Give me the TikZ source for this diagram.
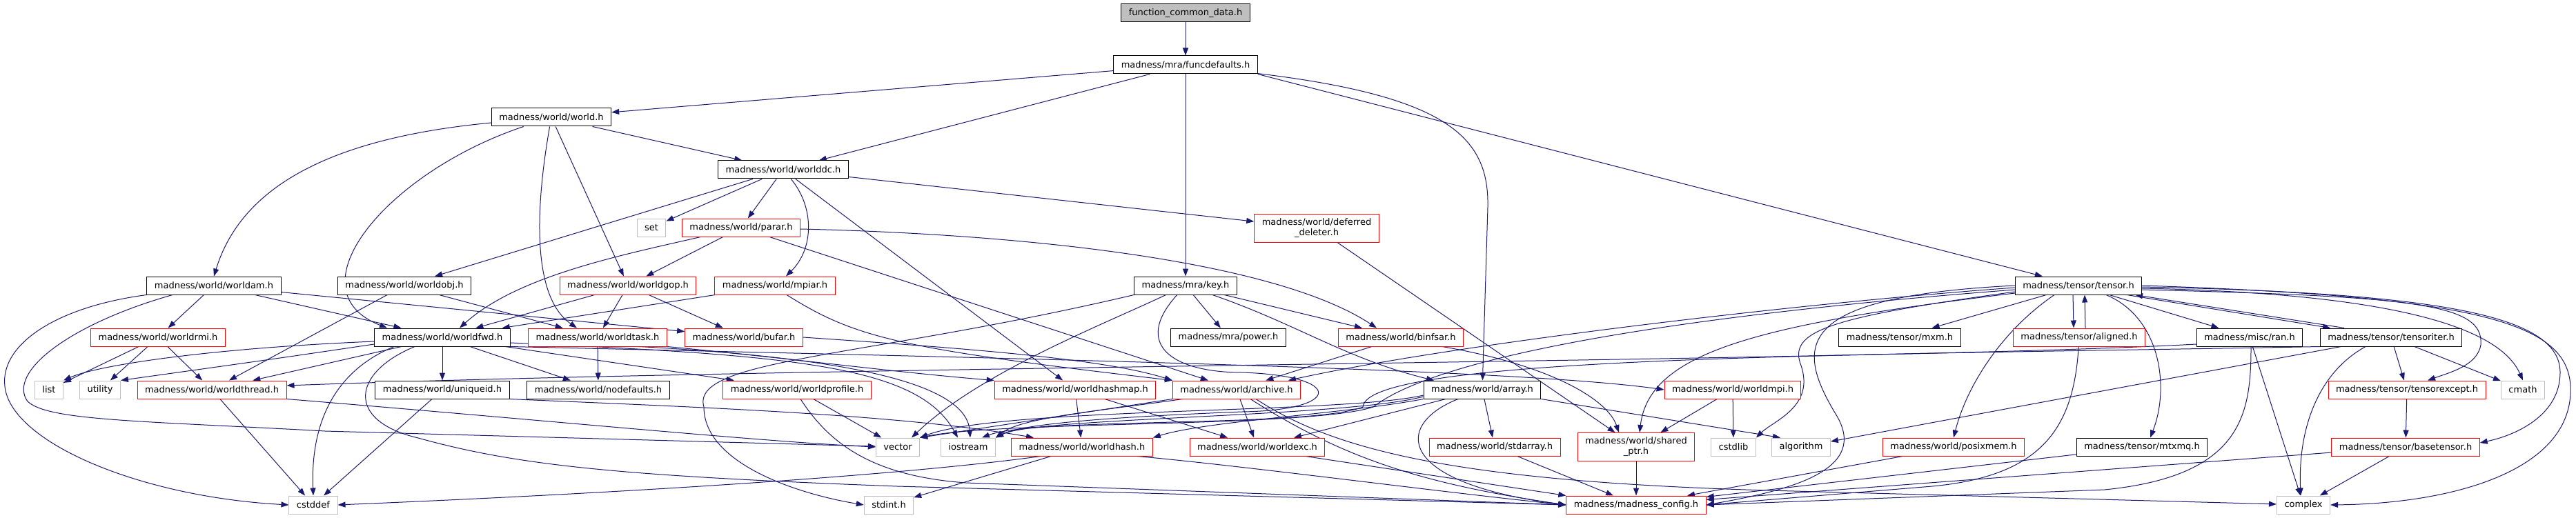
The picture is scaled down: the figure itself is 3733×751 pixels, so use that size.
\documentclass[tikz,border=0pt]{standalone}
\usepackage{fontspec}
\setmainfont{DejaVu Sans}
\usepackage{tikz}
\usetikzlibrary{arrows.meta,backgrounds}
\definecolor{depblue}{HTML}{191970}
\definecolor{sysgray}{HTML}{BFBFBF}

\begin{document}
\begin{tikzpicture}[
  x=1pt, y=-1pt,
  hdr/.style={draw=black, line width=1pt, fill=white, align=center,
    font=\fontsize{13}{15}\selectfont, inner xsep=11pt, inner ysep=6.5pt,
    minimum height=26pt},
  redhdr/.style={hdr, draw=red},
  syshdr/.style={hdr, draw=sysgray},
  roothdr/.style={hdr, fill=sysgray},
  dep/.style={-{Triangle[length=11pt,width=8pt]}, draw=depblue, line width=1pt}
]
\useasboundingbox (0,0) rectangle (3733,751);

% ranks, top to bottom
\node[roothdr] (root) at (1718,19) {function\_common\_data.h};
\node[hdr] (funcdef) at (1718,94) {madness/mra/funcdefaults.h};
\node[hdr] (world) at (799,170) {madness/world/world.h};
\node[hdr] (worlddc) at (1135,246) {madness/world/worlddc.h};

\node[syshdr] (set) at (944,330) {set};
\node[redhdr] (parar) at (1074,330) {madness/world/parar.h};
\node[redhdr] (deldel) at (1908,331) {madness/world/deferred\\\_deleter.h};

\node[hdr] (worldam) at (310,414) {madness/world/worldam.h};
\node[hdr] (worldobj) at (586,414) {madness/world/worldobj.h};
\node[redhdr] (worldgop) at (910,414) {madness/world/worldgop.h};
\node[redhdr] (mpiar) at (1123,414) {madness/world/mpiar.h};
\node[hdr] (key) at (1718,414) {madness/mra/key.h};
\node[hdr] (tensor) at (3012,414) {madness/tensor/tensor.h};

\node[redhdr] (worldrmi) at (229,489) {madness/world/worldrmi.h};
\node[hdr] (worldfwd) at (641,489) {madness/world/worldfwd.h};
\node[redhdr] (worldtask) at (866,489) {madness/world/worldtask.h};
\node[redhdr] (bufar) at (1078,489) {madness/world/bufar.h};
\node[hdr] (power) at (1780,489) {madness/mra/power.h};
\node[redhdr] (binfsar) at (2030,489) {madness/world/binfsar.h};
\node[hdr] (mxm) at (2753,489) {madness/tensor/mxm.h};
\node[redhdr] (aligned) at (3013,489) {madness/tensor/aligned.h};
\node[hdr] (ran) at (3260,489) {madness/misc/ran.h};
\node[hdr] (tensoriter) at (3465,489) {madness/tensor/tensoriter.h};

\node[syshdr] (list) at (71,565) {list};
\node[syshdr] (utility) at (145,565) {utility};
\node[redhdr] (wthread) at (307,565) {madness/world/worldthread.h};
\node[hdr] (uniqueid) at (641,565) {madness/world/uniqueid.h};
\node[hdr] (nodefaults) at (867,565) {madness/world/nodefaults.h};
\node[redhdr] (wprofile) at (1155,565) {madness/world/worldprofile.h};
\node[redhdr] (whashmap) at (1558,565) {madness/world/worldhashmap.h};
\node[redhdr] (archive) at (1792,565) {madness/world/archive.h};
\node[hdr] (array) at (2148,565) {madness/world/array.h};
\node[redhdr] (worldmpi) at (2511,565) {madness/world/worldmpi.h};
\node[redhdr] (texcept) at (3488,565) {madness/tensor/tensorexcept.h};
\node[syshdr] (cmath) at (3656,565) {cmath};

\node[syshdr] (vector) at (1301,648) {vector};
\node[syshdr] (iostream) at (1403,648) {iostream};
\node[redhdr] (whash) at (1568,648) {madness/world/worldhash.h};
\node[redhdr] (worldexc) at (1822,648) {madness/world/worldexc.h};
\node[redhdr] (stdarray) at (2166,648) {madness/world/stdarray.h};
\node[redhdr] (sharedptr) at (2371,648) {madness/world/shared\\\_ptr.h};
\node[syshdr] (cstdlib) at (2512,648) {cstdlib};
\node[syshdr] (algorithm) at (2610,648) {algorithm};
\node[redhdr] (posixmem) at (2831,648) {madness/world/posixmem.h};
\node[hdr] (mtxmq) at (3104,648) {madness/tensor/mtxmq.h};
\node[redhdr] (basetensor) at (3486,648) {madness/tensor/basetensor.h};

\node[syshdr] (cstddef) at (454,732) {cstddef};
\node[syshdr] (stdint) at (1288,732) {stdint.h};
\node[redhdr] (config) at (2371,732) {madness/madness\_config.h};
\node[syshdr] (complex) at (3338,732) {complex};

\begin{scope}[on background layer]
\fill[white] (0,0) rectangle (3733,751);

% top of the graph
\draw[dep] (root) -- (funcdef);
\draw[dep] (funcdef) -- (world);
\draw[dep] (funcdef) -- (worlddc);
\draw[dep] (funcdef) -- (key);
\draw[dep] (funcdef) .. controls (2100,140) and (2158,200) .. (2156,300) -- (array);
\draw[dep] (funcdef.south east) -- (tensor);

% world.h
\draw[dep] (world) -- (worlddc);
\draw[dep] ([yshift=-8pt]world.west) .. controls (480,200) and (350,270) .. (worldam.north);
\draw[dep] (world) .. controls (560,250) and (420,420) .. ([xshift=-80pt]worldfwd.north);
\draw[dep] (world) .. controls (776,300) and (770,430) .. ([xshift=-30pt]worldtask.north);
\draw[dep] (world) -- (worldgop);

% worlddc.h
\draw[dep] (worlddc) -- (worldobj);
\draw[dep] (worlddc) -- (set);
\draw[dep] (worlddc) -- (parar);
\draw[dep] (worlddc) .. controls (1180,300) and (1180,360) .. ([xshift=16pt]mpiar.north);
\draw[dep] (worlddc) -- (whashmap);
\draw[dep] (worlddc) -- (deldel);

% parar.h and deferred_deleter.h
\draw[dep] (parar) .. controls (900,370) and (750,400) .. ([xshift=25pt]worldfwd.north);
\draw[dep] (parar) -- (worldgop);
\draw[dep] (parar) -- (archive);
\draw[dep] (parar) .. controls (1500,340) and (1850,380) .. ([xshift=-35pt]binfsar.north);
\draw[dep] (deldel) -- (sharedptr);

% worldam.h, worldobj.h, worldgop.h, mpiar.h
\draw[dep] (worldam) -- (worldrmi);
\draw[dep] (worldam) -- (worldfwd);
\draw[dep] (worldam.south west) .. controls (80,445) and (0,500) .. (7,560)
  .. controls (15,640) and (200,720) .. (cstddef.west);
\draw[dep] ([xshift=-60pt]worldam.south) .. controls (100,470) and (10,540) .. (40,582)
  .. controls (70,610) and (200,610) .. (471,625) -- (vector);
\draw[dep] (worldam) -- (bufar);
\draw[dep] (worldobj) -- (wthread);
\draw[dep] (worldobj) -- (worldtask);
\draw[dep] (worldgop) -- (worldfwd);
\draw[dep] (worldgop) -- (worldtask);
\draw[dep] (worldgop) -- (bufar);
\draw[dep] (mpiar) -- (worldfwd);
\draw[dep] ([xshift=17pt]mpiar.south) .. controls (1240,490) and (1300,505) .. (archive.north west);

% worldrmi.h and worldfwd.h
\draw[dep] (worldrmi) -- (list);
\draw[dep] (worldrmi) -- (utility);
\draw[dep] (worldrmi) -- (wthread);
\draw[dep] ([yshift=-6pt]worldfwd.west) .. controls (300,505) and (140,530) .. (list.north east);
\draw[dep] ([yshift=-10pt]worldfwd.west) .. controls (400,520) .. (utility.north east);
\draw[dep] (worldfwd) -- (wthread);
\draw[dep] ([xshift=-70pt]worldfwd.south) .. controls (480,540) and (450,620) .. (cstddef.north);
\draw[dep] (worldfwd) -- (uniqueid);
\draw[dep] (worldfwd) -- (nodefaults);
\draw[dep] (worldfwd) -- (wprofile);
\draw[dep] ([xshift=-40pt]worldfwd.south) .. controls (510,540) and (500,610) .. (606,635)
  .. controls (750,675) and (900,690) .. (1300,705) -- (config.west);
\draw[dep] ([yshift=-8pt]worldfwd.east) .. controls (1150,515) and (1330,530) .. ([xshift=-15pt]iostream.north);
\draw[dep] (worldfwd.south east) .. controls (1500,520) and (2200,535) .. (worldmpi.west);

% worldtask.h and bufar.h
\draw[dep] (worldtask) -- (nodefaults);
\draw[dep] (worldtask.south east) .. controls (1150,520) and (1300,540) .. (whashmap.north west);
\draw[dep] ([xshift=60pt]worldtask.south) .. controls (1250,520) and (1400,560) .. ([xshift=3pt]iostream.north);
\draw[dep] (bufar.east) .. controls (1400,505) and (1600,520) .. (archive.north west);

% key.h
\draw[dep] (key) .. controls (1600,470) and (1420,540) .. ([xshift=20pt]vector.north);
\draw[dep] (key.south west) .. controls (1250,520) and (1000,520) .. (1020,590)
  .. controls (1020,670) and (1150,715) .. (stdint.west);
\draw[dep] (key) .. controls (1640,500) and (1700,540) .. (1800,540)
  .. controls (1950,545) and (1945,595) .. (1800,597)
  .. controls (1600,605) and (1480,615) .. (iostream.north east);
\draw[dep] (key) -- (power);
\draw[dep] (key) -- (binfsar);
\draw[dep] (key) .. controls (1880,470) and (1950,520) .. ([xshift=-70pt]array.north);

% archive.h, worldhashmap.h, worldhash.h, worldexc.h
\draw[dep] (archive.south west) -- (vector.north east);
\draw[dep] ([xshift=15pt]archive.south west) .. controls (1600,595) and (1480,605) .. (iostream.north east);
\draw[dep] (archive) -- (worldexc);
\draw[dep] ([xshift=20pt]archive.south) .. controls (1940,660) and (2050,700) .. (config.west);
\draw[dep] ([xshift=28pt]archive.south) .. controls (1930,650) and (2100,700) .. (2600,712) -- (complex);
\draw[dep] (whashmap) -- (whash);
\draw[dep] (whashmap) -- (worldexc);
\draw[dep] (whash) -- (stdint);
\draw[dep] ([xshift=-60pt]whash.south) .. controls (1300,690) and (900,715) .. (cstddef.east);
\draw[dep] ([xshift=80pt]whash.south) .. controls (1800,675) and (2100,715) .. (config.west);
\draw[dep] ([xshift=70pt]worldexc.south) -- (config.north west);

% array.h
\draw[dep] ([yshift=-8pt]array.west) .. controls (1950,600) and (1450,590) .. (vector.north east);
\draw[dep] ([yshift=-10pt]array.west) .. controls (1950,605) and (1500,605) .. (iostream.north east);
\draw[dep] (array.south west) .. controls (1950,600) and (1750,610) .. (whash.north east);
\draw[dep] (array) -- (worldexc);
\draw[dep] (array) -- (stdarray);
\draw[dep] ([xshift=-35pt]array.south) .. controls (2020,615) and (2020,700) .. (config.west);
\draw[dep] (array.south east) -- ([xshift=-30pt]algorithm.north);

% lower middle
\draw[dep] (stdarray) -- (config);
\draw[dep] (sharedptr) -- (config);
\draw[dep] (worldmpi) -- (sharedptr);
\draw[dep] (worldmpi) -- (cstdlib);
\draw[dep] (binfsar) -- (archive);
\draw[dep] ([xshift=60pt]binfsar.south) .. controls (2250,530) and (2330,580) .. ([xshift=-25pt]sharedptr.north);
\draw[dep] (wprofile) -- (vector);
\draw[dep] ([xshift=5pt]wprofile.south) .. controls (1200,640) and (1260,690) .. (1400,700) -- (config.west);
\draw[dep] (uniqueid) -- (cstddef);
\draw[dep] (uniqueid.south east) .. controls (1000,590) and (1300,600) .. ([xshift=-70pt]whash.north);
\draw[dep] (wthread) -- (cstddef);
\draw[dep] (wthread.south east) .. controls (800,610) and (1100,640) .. (vector.west);

% tensor.h, fanning out left and right
\draw[dep] (tensor) -- (mxm);
\draw[dep] ([xshift=-8pt]tensor.south) -- ([xshift=-8pt]aligned.north);
\draw[dep] ([xshift=9pt]aligned.north) -- ([xshift=9pt]tensor.south);
\draw[dep] (tensor) -- (ran);
\draw[dep] ([xshift=70pt]tensor.south) -- ([xshift=-88pt]tensoriter.north);
\draw[dep] ([xshift=-68pt]tensoriter.north) -- ([xshift=82pt]tensor.south);
\draw[dep] ([xshift=-35pt]tensor.south) .. controls (2900,480) and (2850,560) .. (posixmem.north);
\draw[dep] ([xshift=40pt]tensor.south) .. controls (3130,460) and (3145,560) .. ([xshift=12pt]mtxmq.north);
\draw[dep] ([yshift=-6pt]tensor.east) .. controls (3500,430) and (3600,440) .. (3595,500)
  .. controls (3590,530) and (3550,540) .. ([xshift=30pt]texcept.north);
\draw[dep] ([yshift=-4pt]tensor.east) .. controls (3450,425) and (3620,470) .. (cmath.north);
\draw[dep] ([yshift=-2pt]tensor.east) .. controls (3550,425) and (3710,460) .. (3710,540)
  .. controls (3710,600) and (3650,630) .. ([yshift=6pt]basetensor.east);
\draw[dep] (tensor.east) .. controls (3600,430) and (3720,470) .. (3725,560)
  .. controls (3730,680) and (3560,730) .. (complex.east);
\draw[dep] ([yshift=-3pt]tensor.west) .. controls (2600,440) and (2100,500) .. ([xshift=75pt]archive.north);
\draw[dep] ([yshift=-6pt]tensor.west) .. controls (2400,460) and (2080,520) .. (1990,590)
  .. controls (1900,620) and (1450,610) .. (vector.north east);
\draw[dep] ([yshift=-9pt]tensor.west) .. controls (2650,460) and (2590,480) .. (2610,530)
  .. controls (2630,590) and (2570,610) .. (cstdlib.north east);
\draw[dep] ([yshift=-11pt]tensor.west) .. controls (2550,470) and (2390,510) .. ([xshift=5pt]sharedptr.north);
\draw[dep] (tensor.west) .. controls (2600,430) and (2600,500) .. (2660,600)
  .. controls (2710,680) and (2600,710) .. (config.east);

% tensoriter.h, ran.h and the rest of the tensor side
\draw[dep] (tensoriter) -- (texcept);
\draw[dep] (tensoriter) -- (cmath);
\draw[dep] ([xshift=-37pt]tensoriter.south) .. controls (3360,540) and (3330,620) .. ([xshift=-4pt]complex.north);
\draw[dep] (tensoriter) -- (algorithm);
\draw[dep] (tensoriter.south west) .. controls (2700,515) and (1980,515) .. (1975,590)
  .. controls (1900,620) and (1500,605) .. ([xshift=20pt]iostream.north);
\draw[dep] ([yshift=-10pt]ran.west) .. controls (2700,525) and (1200,530) .. ([yshift=6pt]wthread.east);
\draw[dep] (ran) -- (complex);
\draw[dep] ([xshift=2pt]ran.south) .. controls (3262,600) and (3250,690) .. (3050,710) -- (config.east);
\draw[dep] (aligned) .. controls (3005,620) and (2960,690) .. (2800,705) -- (config.east);
\draw[dep] (texcept) -- (basetensor);
\draw[dep] (basetensor) -- (complex);
\draw[dep] (basetensor) -- (config);
\draw[dep] (posixmem) -- (config);
\draw[dep] (mtxmq) -- (config);
\end{scope}
\end{tikzpicture}
\end{document}
